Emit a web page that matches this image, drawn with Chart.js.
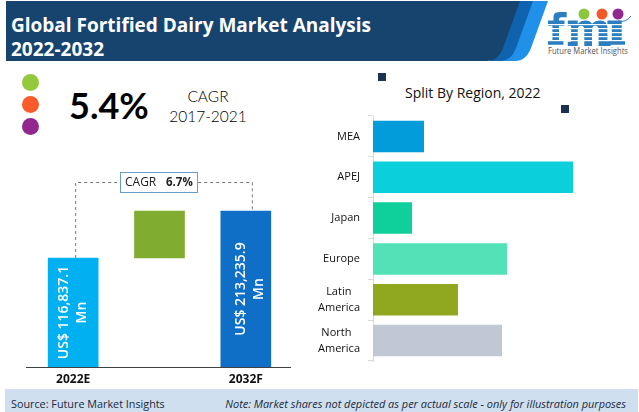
<!DOCTYPE html>
<html>
<head>
<meta charset="utf-8">
<script src="https://cdn.jsdelivr.net/npm/chart.js@4"></script>
<style>
  html, body { margin: 0; padding: 0; background: #fff; }
  body { position: relative; width: 639px; height: 412px; overflow: hidden; font-family: "Open Sans", sans-serif; }
  .abs { position: absolute; white-space: nowrap; }
  canvas { position: absolute; }
  #title { left: 11px; top: 13px; color: #fff; font-weight: 700; font-size: 19px; line-height: 24px; }
  .dot { position: absolute; left: 22px; width: 17px; height: 17px; border-radius: 50%; }
  .sq { position: absolute; width: 8px; height: 8px; background: #1b3350; }
  #footer { left: 5px; top: 389px; width: 633px; height: 23px; background: #cfdff0; position: absolute; }
  #src { left: 11px; top: 396px; font-size: 10.8px; color: #1c2a3a; }
  #note { right: 13px; top: 396px; font-size: 10.95px; font-style: italic; color: #1c2a3a; }
</style>
</head>
<body>
<svg class="abs" style="left:0;top:0" width="639" height="64">
  <path d="M510 1 H548 L531 48 Q526 61 515 61 H490 Z" fill="#2090e8"/>
  <path d="M510 1 H533 L516 48 Q511 61 500 61 H490 Z" fill="#0f62ad"/>
  <path d="M6 1 H520 L503 48 Q498 61 487 61 H6 Z" fill="#17446f"/>
  <g fill="#2b7fc0" transform="translate(548 12) scale(1.1 1.06) translate(-549 -11)">
    <path d="M549 19 h5 v-4 q0 -4 6 -4 h6 v5 h-5 q-2 0 -2 2 v1 h5 v5 h-5 v14 h4 v4 h-14 v-4 h4 v-14 h-4 z"/>
    <path d="M567 19 h9 v3 q3 -3 7 -3 q4 0 6 3 q3 -3 7 -3 q7 0 7 7 v13 h3 v4 h-11 v-15 q0 -4 -3 -4 q-3 0 -3 4 v15 h-7 v-15 q0 -4 -3 -4 q-3 0 -3 4 v15 h-9 v-4 h3 v-15 h-3 z"/>
    <path d="M603 19 h13 v19 h3 v4 h-16 v-4 h4 v-15 h-4 z"/>
  </g>
  <g fill="#fff">
    <rect x="548" y="24" width="81" height="1.2"/><rect x="548" y="28" width="81" height="1.2"/>
    <rect x="548" y="32" width="81" height="1.2"/><rect x="548" y="36" width="81" height="1.2"/>
    <rect x="548" y="40" width="81" height="1.2"/>
  </g>
  <path d="M618 21 Q626 23 631 16" fill="none" stroke="#2b7fc0" stroke-width="1"/>
  <circle cx="584" cy="14" r="5.5" fill="#8cc63f"/>
  <circle cx="602" cy="14" r="5.5" fill="#f15a29"/>
  <circle cx="618" cy="14" r="5.5" fill="#92278f"/>
  <text x="548" y="54" font-family="Open Sans" font-size="8.6" fill="#555" textLength="80" lengthAdjust="spacingAndGlyphs">Future Market Insights</text>
</svg>
<div id="title" class="abs">Global Fortified Dairy Market Analysis<br>2022-2032</div>

<div class="dot" style="top:74px;background:#94c83d"></div>
<div class="dot" style="top:96px;background:#fb5a2a"></div>
<div class="dot" style="top:118px;background:#92278f"></div>
<div class="abs" style="left:69px;top:84px;font:700 36px/42px Lato,sans-serif;color:#000">5.4%</div>
<div class="abs" style="left:168px;top:86px;width:80px;text-align:center;font:300 15.5px/20px Lato,sans-serif;color:#000">CAGR<br>2017-2021</div>

<div class="sq" style="left:378px;top:73px"></div>
<div class="sq" style="left:561px;top:105px"></div>
<div class="abs" style="left:405px;top:83px;font-size:14px;color:#111">Split By Region, 2022</div>

<div id="footer"></div>
<canvas id="growthChart" width="320" height="229" style="left:0;top:160px"></canvas>
<canvas id="regionChart" width="359" height="260" style="left:280px;top:110px"></canvas>

<div id="src" class="abs">Source: Future Market Insights</div>
<div id="note" class="abs">Note: Market shares not depicted as per actual scale - only for illustration purposes</div>

<script>
// left chart: bar heights are illustrative in the picture, not to scale
const years = ["2022E", "", "2032F"];
const barStart = [0, 109, 0];
const barEnd = [109, 156, 156];
const barColors = ["#00b0f0", "#80ac30", "#0f6fc6"];
const barLabels = [["US$ 116,837.1", "Mn"], null, ["US$ 213,235.9", "Mn"]];
const cagrLabel = "CAGR";
const cagrValue = "6.7%";

// right chart
const regions = ["MEA", "APEJ", "Japan", "Europe", ["Latin", "America"], ["North", "America"]];
const regionValues = [51, 200, 39, 134, 85, 129];
const regionColors = ["#019cd9", "#0bd0dc", "#0fd09a", "#53e2b7", "#90a81f", "#c1c7d4"];

Chart.defaults.animation = false;
Chart.defaults.responsive = false;

const growthOverlay = {
  id: "growthOverlay",
  afterDatasetsDraw(chart) {
    const { ctx, scales: { x, y } } = chart;
    // x axis line
    ctx.save();
    ctx.strokeStyle = "#404040";
    ctx.lineWidth = 1;
    ctx.beginPath();
    ctx.moveTo(26, y.bottom + 0.5);
    ctx.lineTo(291, y.bottom + 0.5);
    ctx.stroke();

    // rotated value labels
    ctx.fillStyle = "#fff";
    ctx.font = "600 14px 'Open Sans'";
    ctx.textAlign = "center";
    ctx.textBaseline = "middle";
    barLabels.forEach((lines, i) => {
      if (!lines) return;
      const cx = x.getPixelForValue(i) + (i === 0 ? 0 : 4);
      const cy = (y.getPixelForValue(barEnd[i]) + y.bottom) / 2;
      ctx.save();
      ctx.translate(cx, cy);
      ctx.rotate(-Math.PI / 2);
      ctx.fillText(lines[0], 0, -9);
      ctx.fillText(lines[1], 0, 9);
      ctx.restore();
    });

    // dashed connector between the two bars
    const lx = x.getPixelForValue(0) + 2.5;
    const rx = x.getPixelForValue(2) + 6.5;
    const topY = 22.5;
    ctx.strokeStyle = "#777";
    ctx.setLineDash([3, 3]);
    ctx.beginPath();
    ctx.moveTo(lx, y.getPixelForValue(barEnd[0]));
    ctx.lineTo(lx, topY);
    ctx.lineTo(rx, topY);
    ctx.lineTo(rx, y.getPixelForValue(barEnd[2]));
    ctx.stroke();
    ctx.setLineDash([]);

    // CAGR box
    ctx.fillStyle = "#fff";
    ctx.strokeStyle = "#6a9cc8";
    ctx.fillRect(120.5, 12.5, 77, 20);
    ctx.strokeRect(120.5, 12.5, 77, 20);
    ctx.textAlign = "left";
    ctx.fillStyle = "#222";
    ctx.font = "12px 'Open Sans'";
    ctx.fillText(cagrLabel, 125, 23);
    ctx.font = "700 11.5px 'Open Sans'";
    ctx.fillText(cagrValue, 166, 23);
    ctx.restore();
  }
};

new Chart(document.getElementById("growthChart"), {
  type: "bar",
  data: {
    labels: years,
    datasets: [{
      data: years.map((_, i) => [barStart[i], barEnd[i]]),
      backgroundColor: barColors,
      barThickness: 50
    }]
  },
  options: {
    devicePixelRatio: 1,
    layout: { padding: { left: 30, right: 31 } },
    plugins: { legend: { display: false }, tooltip: { enabled: false } },
    scales: {
      x: {
        grid: { display: false, drawTicks: false },
        border: { display: false },
        ticks: { color: "#111", font: { family: "Open Sans", size: 12, weight: "bold" }, padding: 5, maxRotation: 0, autoSkip: false },
        afterFit(s) { s.height = 22; }
      },
      y: { display: false, min: 0, max: 207 }
    }
  },
  plugins: [growthOverlay]
});

new Chart(document.getElementById("regionChart"), {
  type: "bar",
  data: {
    labels: regions,
    datasets: [{
      data: regionValues,
      backgroundColor: regionColors,
      categoryPercentage: 1,
      barPercentage: 0.77
    }]
  },
  options: {
    indexAxis: "y",
    devicePixelRatio: 1,
    layout: { padding: { top: 6, bottom: 9 } },
    plugins: { legend: { display: false }, tooltip: { enabled: false } },
    scales: {
      x: { display: false, min: 0, max: 266 },
      y: {
        grid: { drawOnChartArea: false, color: "#d9d9d9", tickLength: 5 },
        border: { color: "#d9d9d9" },
        ticks: {
          color: "#111",
          font: { family: "Open Sans", size: 11, lineHeight: 1.45 },
          padding: 8,
          autoSkip: false,
          // first line of the two-line labels sits centred over the second
          callback(v) {
            const label = regions[v];
            return Array.isArray(label) ? [label[0] + "   ", label[1]] : label;
          }
        },
        afterFit(s) {
          s.width = 93;
          s.paddingTop = 0;
          s.paddingBottom = 0;
        }
      }
    }
  }
});
</script>
</body>
</html>
